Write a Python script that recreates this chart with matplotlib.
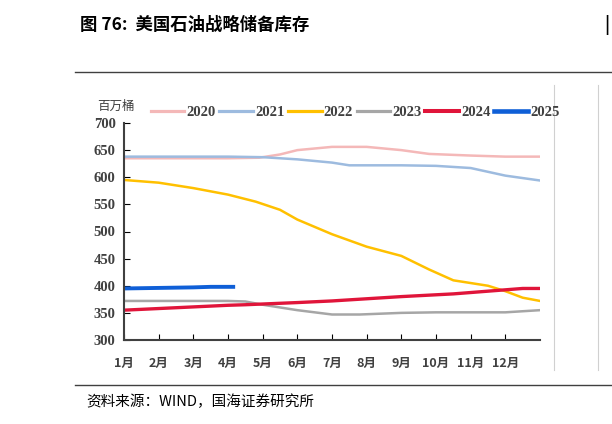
import matplotlib
matplotlib.use("Agg")
import matplotlib.pyplot as plt
from matplotlib.lines import Line2D

months = ["1月","2月","3月","4月","5月","6月","7月","8月","9月","10月","11月","12月"]
x2020 = [0,1,2,3,3.9,4.5,5,6,7,8,8.8,10,11,12]
y2020 = [635,635,635,635,636,642,650,656,656,650,643,640,638,638]
x2021 = [0,1,2,3,4,5,6,6.5,8,9,10,10.5,11,12]
y2021 = [638,638,638,638,637,633,627,622,622,621,617,610,603,594]
x2022 = [0,1,2,3,3.8,4.5,5,6,7,8,8.8,9.5,10.5,11,11.5,12]
y2022 = [595,590,580,568,555,540,522,495,472,455,430,410,400,390,378,372]
x2023 = [0,1,2,3,3.5,4,5,6,6.8,8,9,11,12]
y2023 = [372,372,372,372,371,365,355,347,347,350,351,351,355]
x2024 = [0,1,2,3,3.5,5,6,7,8,9.5,10.5,11.5,12]
y2024 = [355,358,361,364,365,369,372,376,380,385,390,395,395]
x2025 = [0,1,2,2.5,3.15]
y2025 = [395,396,397,398,398]
years = ["2020","2021","2022","2023","2024","2025"]
colors = ["#f4b8b8","#9dbbdf","#ffc000","#a6a6a6","#e0153a","#0f5fd7"]
widths = [1.8,1.8,1.8,1.8,2.4,2.8]

cjk = "Noto Sans CJK SC"
serif = "Liberation Serif"
fig = plt.figure(figsize=(6.12,4.24), dpi=100)
ax = fig.add_axes([124/612, 1-340/424, 416/612, 217/424])
for xs, ys, c, w in zip([x2020,x2021,x2022,x2023,x2024,x2025],
                        [y2020,y2021,y2022,y2023,y2024,y2025], colors, widths):
    ax.plot(xs, ys, color=c, lw=w)
ax.set_xlim(0,12)
ax.set_ylim(300,700)
ax.set_yticks(range(300,701,50))
ax.set_yticklabels([str(v) for v in range(300,701,50)], fontfamily=serif, fontsize=10.5, fontweight="bold", color="#404040")
ax.set_xticks(range(12))
ax.set_xticklabels(months, fontfamily=cjk, fontsize=9, fontweight="bold", color="#404040")
ax.tick_params(axis="x", direction="in", length=4, pad=12)
ax.tick_params(axis="y", direction="in", length=4, pad=6)
for s in ["top","right"]:
    ax.spines[s].set_visible(False)
for s in ["left","bottom"]:
    ax.spines[s].set_color("#404040"); ax.spines[s].set_linewidth(1.5)

handles = [Line2D([],[],color=c,lw=w+0.5) for c,w in zip(colors,widths)]
fig.legend(handles, years, loc="center", bbox_to_anchor=(355/612, 1-112/424), ncol=6,
           frameon=False, prop={"family":serif,"size":10.5,"weight":"bold"},
           handlelength=2.3, columnspacing=0.25, handletextpad=0.15, labelcolor="#404040")
fig.text(97/612, 1-106/424, "百万桶", fontfamily=cjk, fontsize=9, color="#404040", va="center")
fig.text(80/612, 1-25/424, "图 76:  美国石油战略储备库存", fontfamily=cjk, fontsize=12.5, fontweight="bold", va="center")
fig.text(604/612, 1-25/424, "|", fontfamily=cjk, fontsize=12.5, fontweight="bold", va="center")
fig.add_artist(Line2D([75/612,1],[1-72/424]*2, color="#404040", lw=1))
fig.add_artist(Line2D([75/612,1],[1-385/424]*2, color="#404040", lw=1))
fig.add_artist(Line2D([554/612]*2,[1-370/424,1-85/424], color="#d0d0d0", lw=0.8))
fig.add_artist(Line2D([598/612]*2,[1-370/424,1-85/424], color="#d0d0d0", lw=0.8))
fig.text(86/612, 1-402/424, "资料来源：WIND，国海证券研究所", fontfamily=cjk, fontsize=10.5, va="center")
fig.savefig("out.png", dpi=100)
